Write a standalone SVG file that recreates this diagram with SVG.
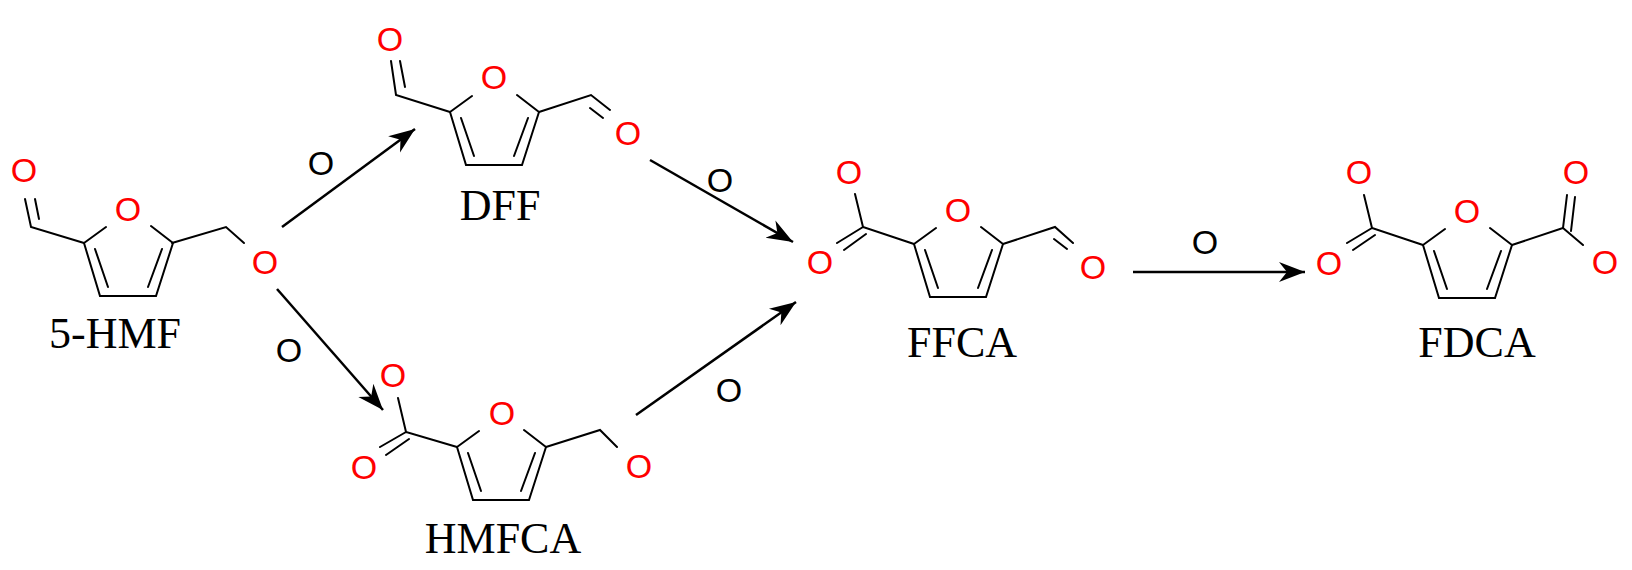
<svg xmlns="http://www.w3.org/2000/svg" xmlns:xlink="http://www.w3.org/1999/xlink" width="1632" height="570" viewBox="0 0 1632 570">
<style>
.b{stroke:#000;stroke-width:2;fill:none;stroke-linecap:round}
.a{stroke:#000;stroke-width:2.5;fill:none}
.o{font-family:"Liberation Sans",Arial,sans-serif;font-size:34px;fill:#f00;text-anchor:middle}
.k{font-family:"Liberation Sans",Arial,sans-serif;font-size:34px;fill:#000;text-anchor:middle}
.n{font-family:"Liberation Serif","Times New Roman",serif;font-size:44px;fill:#000;text-anchor:middle}
</style>
<defs>
<g id="furan">
<path class="b" d="M0,0 L16,53 L72,53 L89,0 M0,0 L22,-16 M89,0 L67,-17 M11,6 L24,44 M64,44 L78,6"/>
</g>
<marker id="ar" markerUnits="userSpaceOnUse" markerWidth="30" markerHeight="24" viewBox="-26 -12 30 24" refX="0" refY="0" orient="auto">
<path d="M0,0 L-26,-10 L-18,0 L-26,10 Z" fill="#000"/>
</marker>
</defs>
<rect width="1632" height="570" fill="#fff"/>

<g id="hmf">
<use xlink:href="#furan" href="#furan" x="84" y="243"/>
<path class="b" d="M84,243 L31,227 L25,199 M39,219 L35,199 M172,243 L226,227 L244,243"/>
<text class="o" x="128" y="221">O</text>
<text class="o" x="24" y="182">O</text>
<text class="o" x="265" y="274">O</text>
<text class="n" x="115" y="348">5-HMF</text>
</g>

<g id="dff">
<use xlink:href="#furan" href="#furan" x="450" y="112"/>
<path class="b" d="M450,112 L396,95 L391,61 M405,87 L400,61 M539,112 L591,95 L610,110 M590,108 L603,118"/>
<text class="o" x="494" y="89">O</text>
<text class="o" x="390" y="51">O</text>
<text class="o" x="628" y="145">O</text>
<text class="n" x="500" y="220">DFF</text>
</g>

<g id="hmfca">
<use xlink:href="#furan" href="#furan" x="457" y="447"/>
<path class="b" d="M457,447 L406,432 L398,398 M406,432 L380,447 M409,439 L386,455 M546,447 L600,430 L617,447"/>
<text class="o" x="502" y="425">O</text>
<text class="o" x="393" y="387">O</text>
<text class="o" x="364" y="479">O</text>
<text class="o" x="639" y="478">O</text>
<text class="n" x="503" y="553">HMFCA</text>
</g>

<g id="ffca">
<use xlink:href="#furan" href="#furan" x="914" y="244"/>
<path class="b" d="M914,244 L863,227 L855,194 M863,227 L837,243 M866,234 L844,250 M1003,244 L1055,227 L1073,243 M1054,239 L1067,249"/>
<text class="o" x="958" y="222">O</text>
<text class="o" x="849" y="184">O</text>
<text class="o" x="820" y="274">O</text>
<text class="o" x="1093" y="279">O</text>
<text class="n" x="962" y="357">FFCA</text>
</g>

<g id="fdca">
<use xlink:href="#furan" href="#furan" x="1423" y="245"/>
<path class="b" d="M1423,245 L1372,228 L1364,195 M1372,228 L1347,243 M1375,235 L1353,250 M1512,245 L1563,228 L1567,195 M1571,231 L1575,197 M1563,228 L1583,245"/>
<text class="o" x="1467" y="223">O</text>
<text class="o" x="1359" y="184">O</text>
<text class="o" x="1329" y="275">O</text>
<text class="o" x="1576" y="184">O</text>
<text class="o" x="1605" y="274">O</text>
<text class="n" x="1477" y="357">FDCA</text>
</g>

<g id="connectors">
<line class="a" x1="282" y1="227" x2="415" y2="129" marker-end="url(#ar)"/>
<line class="a" x1="277" y1="289" x2="383" y2="410" marker-end="url(#ar)"/>
<line class="a" x1="650" y1="160" x2="793" y2="242" marker-end="url(#ar)"/>
<line class="a" x1="636" y1="415" x2="796" y2="302" marker-end="url(#ar)"/>
<line class="a" x1="1133" y1="272" x2="1305" y2="272" marker-end="url(#ar)"/>
<text class="k" x="321" y="175">O</text>
<text class="k" x="289" y="362">O</text>
<text class="k" x="720" y="192">O</text>
<text class="k" x="729" y="402">O</text>
<text class="k" x="1205" y="254">O</text>
</g>
</svg>
